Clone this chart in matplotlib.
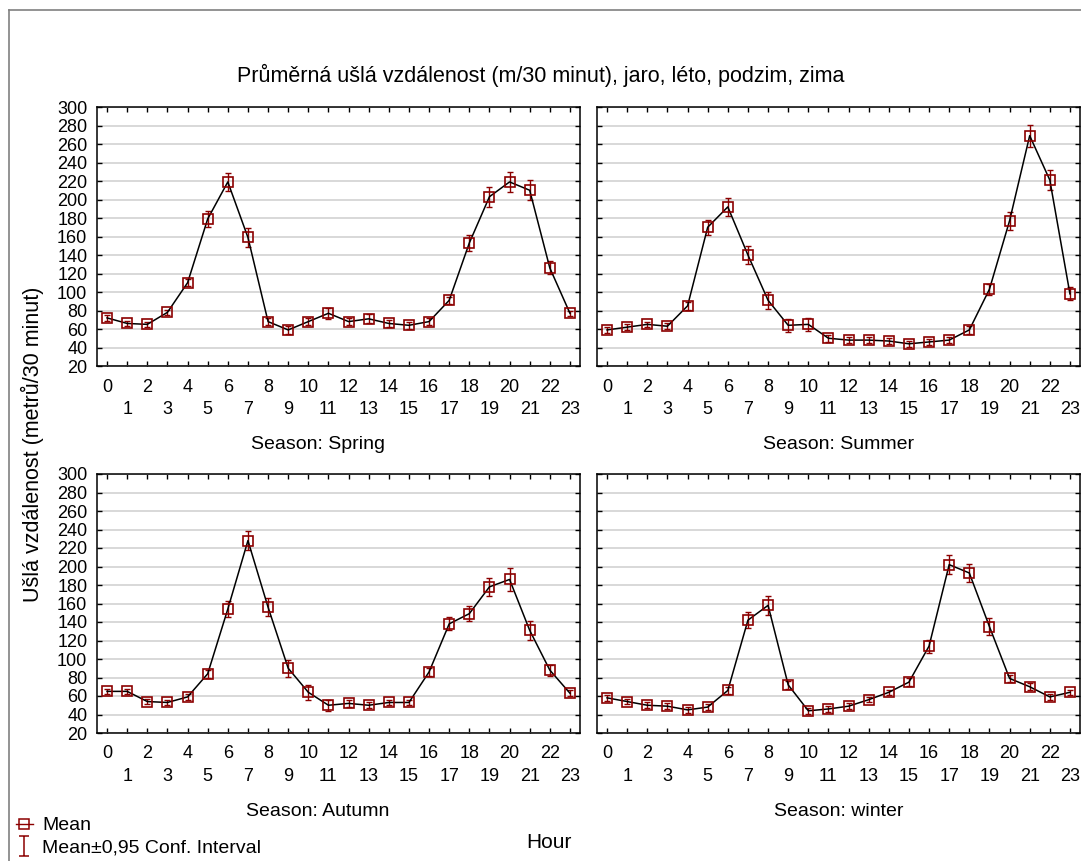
import matplotlib.pyplot as plt
import numpy as np
from matplotlib.lines import Line2D
from matplotlib.path import Path

plt.rcParams["font.family"] = ["Liberation Sans", "DejaVu Sans"]

hours = list(range(24))

spring_mean = [72, 66, 65, 78, 110, 179, 219, 159, 68, 59, 68, 77,
               68, 71, 66, 64, 68, 91, 153, 203, 219, 210, 126, 77]
spring_ci = [3, 3, 3, 3, 4, 9, 10, 10, 4, 4, 4, 6,
             4, 5, 4, 4, 4, 4, 9, 11, 11, 11, 7, 3]

summer_mean = [59, 62, 65, 63, 85, 170, 192, 140, 91, 64, 65, 50,
               48, 48, 47, 44, 46, 48, 59, 103, 177, 269, 221, 98]
summer_ci = [3, 3, 3, 3, 4, 8, 10, 10, 9, 7, 7, 4,
             3, 3, 3, 3, 3, 3, 4, 6, 10, 12, 11, 7]

autumn_mean = [65, 65, 54, 53, 59, 84, 154, 228, 156, 90, 64, 50,
               52, 50, 53, 53, 86, 138, 149, 178, 186, 131, 88, 63]
autumn_ci = [3, 3, 3, 3, 3, 4, 9, 10, 10, 9, 8, 6,
             4, 3, 3, 3, 4, 7, 8, 10, 12, 10, 6, 3]

winter_mean = [58, 54, 50, 49, 45, 48, 66, 142, 158, 72, 44, 46,
               49, 56, 64, 75, 114, 202, 193, 135, 79, 70, 59, 64]
winter_ci = [3, 3, 3, 3, 3, 3, 4, 9, 10, 4, 3, 3,
             3, 3, 3, 4, 7, 10, 10, 9, 4, 4, 3, 3]

seasons = ["Spring", "Summer", "Autumn", "winter"]
means = [spring_mean, summer_mean, autumn_mean, winter_mean]
cis = [spring_ci, summer_ci, autumn_ci, winter_ci]

RED = "#8b0000"
W, H = 1081, 861

fig = plt.figure(figsize=(W / 100, H / 100), dpi=100)

# panel boxes in pixels: left, top, right, bottom
boxes = [(97, 107, 580, 366), (597, 107, 1080, 366),
         (97, 474, 580, 733), (597, 474, 1080, 733)]

for i, (season, mean, ci) in enumerate(zip(seasons, means, cis)):
    l, t, r, b = boxes[i]
    ax = fig.add_axes([l / W, 1 - b / H, (r - l) / W, (b - t) / H])
    ax.set_xlim(-0.5, 23.5)
    ax.set_ylim(20, 300)
    ax.yaxis.grid(True, color="#d6d6d6", lw=1.3, zorder=0)
    ax.set_axisbelow(True)

    ax.errorbar(hours, mean, yerr=ci, fmt="none", ecolor=RED,
                elinewidth=1.0, capsize=2.2, capthick=1.0, zorder=3)
    ax.plot(hours, mean, color="black", lw=1.1, marker="s", ms=7.5,
            mfc="none", mec=RED, mew=1.2, zorder=4)

    ax.set_xticks(hours[::2])
    ax.set_xticks(hours[1::2], minor=True)
    ax.set_xticklabels([str(h) for h in hours[::2]])
    ax.set_xticklabels([str(h) for h in hours[1::2]], minor=True)
    ax.set_yticks(np.arange(20, 301, 20))
    ax.tick_params(axis="both", which="both", direction="in", length=3.5,
                   width=1.0, top=True, right=True, labelsize=13)
    ax.tick_params(axis="x", which="major", pad=9)
    ax.tick_params(axis="x", which="minor", pad=25)
    ax.tick_params(axis="y", pad=7)
    if i % 2 == 1:
        ax.tick_params(axis="y", labelleft=False)
    for sp in ax.spines.values():
        sp.set_linewidth(1.1)

    # left column labels sit under the panel plus its tick labels
    cx = 0.457 if i % 2 == 0 else 0.5
    ax.text(cx, -0.305, f"Season: {season}", transform=ax.transAxes,
            ha="center", va="center", fontsize=14)

fig.text(0.5, 1 - 75 / H,
         "Průměrná ušlá vzdálenost (m/30 minut), jaro, léto, podzim, zima",
         ha="center", va="center", fontsize=15.5)
fig.text(32 / W, 1 - 444 / H, "Ušlá vzdálenost (metrů/30 minut)",
         rotation=90, ha="center", va="center", fontsize=15.5)
fig.text(549 / W, 1 - 843 / H, "Hour", ha="center", va="center", fontsize=15)

# legend symbols: open square on a line, and an I-shaped interval bar
ibar = Path([(-0.45, 1), (0.45, 1), (0, 1), (0, -1), (-0.45, -1), (0.45, -1)],
            [Path.MOVETO, Path.LINETO, Path.MOVETO, Path.LINETO,
             Path.MOVETO, Path.LINETO])
mean_handle = Line2D([], [], color=RED, lw=1.0, marker="s", ms=7,
                     mfc="none", mec=RED, mew=1.1)
ci_handle = Line2D([], [], ls="none", marker=ibar, ms=15, mfc="none",
                   mec=RED, mew=1.1)
fig.legend([mean_handle, ci_handle], ["Mean", "Mean±0,95 Conf. Interval"],
           loc="lower left", bbox_to_anchor=(4 / W, -7 / H), frameon=False,
           fontsize=14, handlelength=0.9, handletextpad=0.45,
           labelspacing=0.22, borderpad=0.1)

# outer frame
fig.add_artist(Line2D([9 / W, 9 / W], [0, 1 - 10 / H], transform=fig.transFigure,
                      color="#808080", lw=1.2))
fig.add_artist(Line2D([9 / W, 1], [1 - 10 / H, 1 - 10 / H], transform=fig.transFigure,
                      color="#808080", lw=1.2))

fig.savefig("out.png", dpi=100)
